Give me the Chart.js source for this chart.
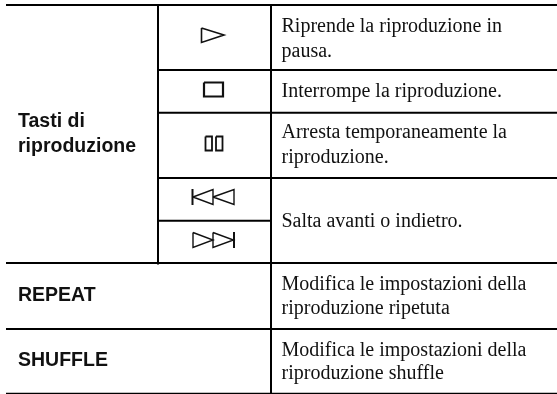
<!DOCTYPE html>
<html><head><meta charset="utf-8">
<style>html,body{margin:0;padding:0;background:#fff}canvas{display:block}</style>
<script src="https://cdn.jsdelivr.net/npm/chart.js@4"></script>
</head><body><canvas id="c" width="557" height="394"></canvas>
<script>
// Table, in table units
const xExtent = [0, 557];
const yExtent = [0, 394];
const fullRules = [5, 263, 329];
const fullRuleLeft = 6;
const innerRules = [70, 112.7, 178];
const iconRule = 220.7;
const bottomRule = 393.3;
const colA = 158;
const colB = 271;
const rowLabels = ["Tasti di", "riproduzione", "REPEAT", "SHUFFLE"];
const rowLabelX = [18, 18, 18, 18];
const rowLabelY = [127, 152, 301, 366];
const descriptions = ["Riprende la riproduzione in", "pausa.", "Interrompe la riproduzione.", "Arresta temporaneamente la", "riproduzione.", "Salta avanti o indietro.", "Modifica le impostazioni della", "riproduzione ripetuta", "Modifica le impostazioni della", "riproduzione shuffle"];
const descX = 281.5;
const descY = [31.5, 56.5, 97, 138, 162.5, 227, 290, 314, 355.5, 379];
const playIcon = [[201.5,28],[224,35],[201.5,42.5],[201.5,28]];
const stopIcon = [[204,82.5],[223,82.5],[223,96.5],[204,96.5],[204,82.5]];
const pauseLeft = [[205.5,136.5],[212,136.5],[212,150.5],[205.5,150.5],[205.5,136.5]];
const pauseRight = [[216,136.5],[222.5,136.5],[222.5,150.5],[216,150.5],[216,136.5]];
const prevIcon = [[192.5,189],[192.5,205]];
const prevA = [[193,197],[213,189.5],[213,204.5],[193,197]];
const prevB = [[213,197],[234,189.5],[234,204.5],[213,197]];
const nextIcon = [[234,232],[234,248]];
const nextA = [[193,232.5],[213,240],[193,247.5],[193,232.5]];
const nextB = [[213,232.5],[233.5,240],[213,247.5],[213,232.5]];

const pts = a => a.map(p => ({x:p[0], y:p[1]}));
const seg = (x1,y1,x2,y2,w) => ({data:[{x:x1,y:y1},{x:x2,y:y2}], borderColor:"#000", borderWidth:w, showLine:true, pointRadius:0, clip:false});
const icon = (a,w) => ({data:pts(a), borderColor:"#111", borderWidth:w, showLine:true, pointRadius:0, clip:false, borderJoinStyle:"miter"});

const datasets = [
  ...fullRules.map(y => seg(fullRuleLeft,y,xExtent[1],y,2)),
  ...innerRules.map(y => seg(colA,y,xExtent[1],y,2)),
  seg(colA,iconRule,colB,iconRule,2),
  seg(fullRuleLeft,bottomRule,xExtent[1],bottomRule,1.2),
  seg(colA,5,colA,264.5,2),
  seg(colB,5,colB,bottomRule,2),
  icon(playIcon,1.6), icon(stopIcon,2.2), icon(pauseLeft,1.8), icon(pauseRight,1.8),
  icon(prevIcon,2), icon(prevA,1.4), icon(prevB,1.4),
  icon(nextIcon,2), icon(nextA,1.4), icon(nextB,1.4)
];

const tablePlugin = {
  id:"tableText",
  afterDatasetsDraw(chart){
    const {ctx, scales:{x,y}} = chart;
    ctx.save();
    ctx.textBaseline = "alphabetic";
    ctx.textAlign = "left";
    ctx.fillStyle = "#111";
    ctx.font = 'bold 19.5px "Liberation Sans"';
    rowLabels.forEach((t,i)=>ctx.fillText(t, x.getPixelForValue(rowLabelX[i]), y.getPixelForValue(rowLabelY[i])));
    ctx.font = '20px "Liberation Serif"';
    descriptions.forEach((t,i)=>ctx.fillText(t, x.getPixelForValue(descX), y.getPixelForValue(descY[i])));
    ctx.restore();
  }
};

new Chart(document.getElementById("c"), {
  type:"scatter",
  data:{datasets},
  options:{
    responsive:false, animation:false, devicePixelRatio:1,
    layout:{padding:0},
    plugins:{legend:{display:false}, tooltip:{enabled:false}, title:{display:false}},
    scales:{
      x:{type:"linear", display:false, min:xExtent[0], max:xExtent[1]},
      y:{type:"linear", display:false, min:yExtent[0], max:yExtent[1], reverse:true}
    }
  },
  plugins:[tablePlugin]
});
</script></body></html>
